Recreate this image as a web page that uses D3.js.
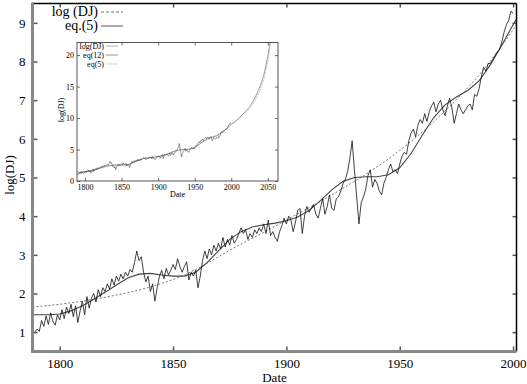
<!DOCTYPE html>
<html>
<head>
<meta charset="utf-8">
<script src="https://cdn.jsdelivr.net/npm/d3@7"></script>
<style>
body { margin: 0; background: #fff; }
svg text { font-family: "Liberation Serif", "DejaVu Serif", serif !important; fill: #000; }
</style>
</head>
<body>
<svg id="chart"></svg>
<script>
// log(DJ) yearly values, 1789..2000
var djYears = d3.range(1789, 2001);
var djVals = [1.00,1.08,1.02,1.30,1.15,1.42,1.20,1.50,1.28,1.18,1.45,
  1.32,1.58,1.35,1.65,1.48,1.72,1.40,1.68,1.25,1.55,
  1.80,1.45,1.92,1.62,1.88,2.00,1.78,2.10,1.92,2.15,
  2.05,2.25,2.12,2.38,2.22,2.45,2.32,2.50,2.38,2.55,
  2.45,2.62,2.55,2.80,3.10,2.85,2.95,2.55,2.30,2.45,
  2.05,2.25,1.80,2.15,2.45,2.60,2.38,2.65,2.48,2.60,
  2.75,2.62,2.90,2.70,2.55,2.70,2.82,2.35,2.55,2.45,
  2.60,2.15,2.45,2.85,3.10,2.90,3.15,3.00,3.25,3.10,
  3.30,3.15,3.45,3.20,3.40,3.25,3.50,3.30,3.40,3.55,
  3.70,3.55,3.65,3.40,3.55,3.45,3.65,3.55,3.70,3.60,
  3.80,3.55,3.90,3.50,3.60,3.45,3.35,3.60,3.75,3.95,
  3.80,4.00,3.90,3.60,3.85,4.15,4.20,3.55,4.00,4.25,
  4.10,4.20,4.30,4.05,3.95,4.20,4.45,4.05,4.25,4.55,
  4.20,4.15,4.45,4.50,4.65,4.85,4.95,5.15,5.50,5.95,
  5.20,4.50,3.80,4.35,4.50,4.70,5.05,5.20,4.75,4.95,
  4.85,4.65,4.55,4.85,5.00,5.20,5.35,5.15,5.20,5.10,
  5.35,5.55,5.65,5.60,5.95,6.15,6.25,6.05,6.35,6.50,
  6.40,6.65,6.45,6.70,6.85,6.95,6.70,6.90,7.00,6.75,
  6.60,6.85,7.05,6.80,6.40,6.65,6.90,6.75,6.65,6.75,
  6.85,6.90,6.75,7.15,7.10,7.30,7.60,7.85,7.75,7.95,
  7.95,8.05,8.15,8.25,8.30,8.50,8.75,8.95,9.05,9.30,
  9.25];

// smooth fits in the main panel
var fitYears = [1788,1795,1800,1805,1810,1815,1820,1825,1830,1835,1840,1845,1850,1855,1860,1865,1870,1875,1880,1885,1890,1895,1900,1905,1910,1915,1920,1925,1930,1935,1940,1945,1950,1955,1960,1965,1970,1975,1980,1985,1990,1995,2000,2001.5];
var eq5Vals = [1.45,1.45,1.47,1.55,1.68,1.85,2.03,2.22,2.40,2.50,2.52,2.48,2.45,2.45,2.55,2.80,3.10,3.40,3.60,3.72,3.78,3.82,3.88,3.98,4.15,4.40,4.68,4.90,5.00,5.02,5.02,5.07,5.25,5.62,6.10,6.55,6.88,7.08,7.25,7.50,7.92,8.42,8.95,9.10];
var powVals = [1.65,1.69,1.72,1.76,1.80,1.85,1.90,1.96,2.02,2.09,2.17,2.26,2.36,2.48,2.62,2.78,2.95,3.12,3.28,3.43,3.58,3.74,3.90,4.06,4.22,4.38,4.55,4.72,4.90,5.08,5.28,5.48,5.70,5.93,6.18,6.44,6.72,7.01,7.32,7.65,8.01,8.40,8.82,8.95];

// inset fits, extrapolated past 2000
var insetYears = [1790,1800,1810,1820,1830,1840,1850,1860,1870,1880,1890,1900,1910,1920,1930,1940,1950,1960,1970,1980,1990,2000,2005,2010,2015,2020,2025,2030,2035,2040,2045,2050,2053,2056];
var eq12Inset = [1.30,1.50,1.72,2.00,2.35,2.55,2.55,2.65,3.15,3.60,3.72,3.85,4.15,4.65,4.95,5.00,5.30,6.15,6.85,7.15,7.90,9.00,9.45,9.95,10.50,11.10,11.80,12.70,13.80,15.20,17.00,19.80,22.0,24.5];
var eq5Inset = [1.45,1.47,1.68,2.03,2.40,2.52,2.45,2.55,3.10,3.63,3.78,3.88,4.15,4.68,5.00,5.02,5.25,6.10,6.88,7.25,7.92,8.95,9.35,9.80,10.30,10.85,11.50,12.30,13.30,14.60,16.30,18.90,21.2,23.5];

var xTicks = [1800,1850,1900,1950,2000];
var yTicks = [1,2,3,4,5,6,7,8,9];
var xTicksInset = [1800,1850,1900,1950,2000,2050];
var yTicksInset = [0,5,10,15,20];

var width = 527, height = 384;
var svg = d3.select("#chart").attr("width", width).attr("height", height);

var L = 32.5, R = 516.5, T = 3.5, B = 351.5;
var x = d3.scaleLinear().domain([1788, 2001.5]).range([L, R]);
var y = d3.scaleLinear().domain([0.5, 9.5]).range([B, T]);

svg.append("clipPath").attr("id", "clipMain")
  .append("rect").attr("x", L).attr("y", T).attr("width", R - L).attr("height", B - T);

var lineOf = function(xs, ys, sx, sy) {
  return d3.line().x(function(d, i) { return sx(xs[i]); }).y(function(d) { return sy(d); })(ys);
};

var plot = svg.append("g").attr("clip-path", "url(#clipMain)");
plot.append("path").attr("d", lineOf(fitYears, powVals, x, y))
  .attr("fill", "none").attr("stroke", "#777").attr("stroke-width", 1).attr("stroke-dasharray", "2,2");
plot.append("path").attr("d", lineOf(fitYears, eq5Vals, x, y))
  .attr("fill", "none").attr("stroke", "#444").attr("stroke-width", 1.1);
plot.append("path").attr("d", lineOf(djYears, djVals, x, y))
  .attr("fill", "none").attr("stroke", "#111").attr("stroke-width", 0.8);

// axes, ticks inward
var gx = svg.append("g").attr("transform", "translate(0," + B + ")")
  .call(d3.axisBottom(x).tickValues(xTicks).tickSize(-5).tickPadding(7).tickFormat(d3.format("d")));
var gxt = svg.append("g").attr("transform", "translate(0," + T + ")")
  .call(d3.axisTop(x).tickValues(xTicks).tickSize(-4).tickFormat(""));
var gy = svg.append("g").attr("transform", "translate(" + L + ",0)")
  .call(d3.axisLeft(y).tickValues(yTicks).tickSize(-5).tickPadding(7));
var gyr = svg.append("g").attr("transform", "translate(" + R + ",0)")
  .call(d3.axisRight(y).tickValues(yTicks).tickSize(-4).tickFormat(""));
[gx, gxt, gy, gyr].forEach(function(g) {
  g.attr("font-family", null).attr("font-size", 13);
  g.select(".domain").remove();
  g.selectAll(".tick line").attr("stroke", "#555").attr("stroke-width", 1.5);
});

// frame: top/right thin black, left/bottom thick grey
svg.append("line").attr("x1", L).attr("x2", R).attr("y1", T).attr("y2", T).attr("stroke", "#000").attr("stroke-width", 1.5);
svg.append("line").attr("x1", R).attr("x2", R).attr("y1", T).attr("y2", B).attr("stroke", "#000").attr("stroke-width", 1.5);
svg.append("line").attr("x1", L).attr("x2", L).attr("y1", T - 1).attr("y2", B + 1.5).attr("stroke", "#888").attr("stroke-width", 3);
svg.append("line").attr("x1", L).attr("x2", R).attr("y1", B).attr("y2", B).attr("stroke", "#888").attr("stroke-width", 3);

svg.append("text").attr("x", (L + R) / 2).attr("y", 382).attr("text-anchor", "middle")
  .attr("font-size", 13).text("Date");
svg.append("text").attr("transform", "translate(14,175) rotate(-90)").attr("text-anchor", "middle")
  .attr("font-size", 13).text("log(DJ)");

// legend
var legend = [{name: "log (DJ)", dash: "3,2"}, {name: "eq.(5)", dash: null}];
var lg = svg.selectAll(".legend").data(legend).enter().append("g")
  .attr("transform", function(d, i) { return "translate(0," + (12 + i * 14) + ")"; });
lg.append("text").attr("x", 98).attr("y", 4).attr("text-anchor", "end").attr("font-size", 14)
  .text(function(d) { return d.name; });
lg.append("line").attr("x1", 101).attr("x2", 123).attr("stroke", "#777").attr("stroke-width", 1.2)
  .attr("stroke-dasharray", function(d) { return d.dash; });

// inset
var iL = 77, iR = 278, iT = 42.5, iB = 181;
var xi = d3.scaleLinear().domain([1789, 2064]).range([iL, iR]);
var yi = d3.scaleLinear().domain([0, 22]).range([iB, iT]);
var inset = svg.append("g");
inset.append("rect").attr("x", iL).attr("y", iT).attr("width", iR - iL).attr("height", iB - iT).attr("fill", "#fff");
svg.append("clipPath").attr("id", "clipInset")
  .append("rect").attr("x", iL).attr("y", iT).attr("width", iR - iL).attr("height", iB - iT);
var ip = inset.append("g").attr("clip-path", "url(#clipInset)");
ip.append("path").attr("d", lineOf(insetYears, eq5Inset, xi, yi))
  .attr("fill", "none").attr("stroke", "#aaa").attr("stroke-width", 0.8).attr("stroke-dasharray", "1.5,1");
ip.append("path").attr("d", lineOf(insetYears, eq12Inset, xi, yi))
  .attr("fill", "none").attr("stroke", "#888").attr("stroke-width", 0.8);
ip.append("path").attr("d", lineOf(djYears, djVals, xi, yi))
  .attr("fill", "none").attr("stroke", "#333").attr("stroke-width", 0.5);

var ix = inset.append("g").attr("transform", "translate(0," + iB + ")")
  .call(d3.axisBottom(xi).tickValues(xTicksInset).tickSize(-3).tickPadding(3).tickFormat(d3.format("d")));
var ixt = inset.append("g").attr("transform", "translate(0," + iT + ")")
  .call(d3.axisTop(xi).tickValues(xTicksInset).tickSize(-3).tickFormat(""));
var iy = inset.append("g").attr("transform", "translate(" + iL + ",0)")
  .call(d3.axisLeft(yi).tickValues(yTicksInset).tickSize(-3).tickPadding(3));
var iyr = inset.append("g").attr("transform", "translate(" + iR + ",0)")
  .call(d3.axisRight(yi).tickValues(yTicksInset).tickSize(-3).tickFormat(""));
[ix, ixt, iy, iyr].forEach(function(g) {
  g.attr("font-family", null).attr("font-size", 8);
  g.select(".domain").remove();
  g.selectAll(".tick line").attr("stroke", "#444").attr("stroke-width", 0.8);
});
inset.append("rect").attr("x", iL).attr("y", iT).attr("width", iR - iL).attr("height", iB - iT)
  .attr("fill", "none").attr("stroke", "#444").attr("stroke-width", 0.9);
inset.append("text").attr("x", (iL + iR) / 2).attr("y", 197).attr("text-anchor", "middle")
  .attr("font-size", 8).text("Date");
inset.append("text").attr("transform", "translate(64,110) rotate(-90)").attr("text-anchor", "middle")
  .attr("font-size", 8).text("log(DJ)");

var insetLegend = [{name: "log(DJ)", color: "#999", dash: null}, {name: "eq(12)", color: "#777", dash: null}, {name: "eq(5)", color: "#aaa", dash: "1.5,1"}];
var ilg = inset.selectAll(".ilegend").data(insetLegend).enter().append("g")
  .attr("transform", function(d, i) { return "translate(0," + (46 + i * 9) + ")"; });
ilg.append("text").attr("x", 104).attr("y", 2.5).attr("text-anchor", "end").attr("font-size", 8)
  .text(function(d) { return d.name; });
ilg.append("line").attr("x1", 106).attr("x2", 118).attr("stroke", function(d) { return d.color; })
  .attr("stroke-width", 0.8).attr("stroke-dasharray", function(d) { return d.dash; });
</script>
</body>
</html>
